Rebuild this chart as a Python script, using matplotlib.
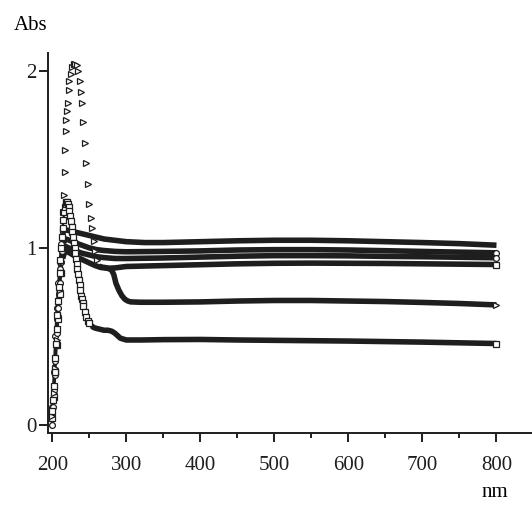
"""UV-Vis absorbance spectra, six samples, 200-800 nm."""
import numpy as np
import matplotlib
matplotlib.use("Agg")
import matplotlib.pyplot as plt
from matplotlib.ticker import MultipleLocator

plt.rcParams["font.family"] = ["Liberation Serif", "DejaVu Serif"]
plt.rcParams["font.size"] = 15

# --- data (nm, Abs) ---
# A: triangles, sharp peak ~2.03 near 230 nm, plateau ~0.69
a_nm = [200, 202, 204, 206, 208, 210, 212, 213, 214, 215, 216, 216.5, 217, 218, 219, 220,
        221, 222, 223, 225, 227, 229, 231, 233, 235, 237, 239, 240, 242, 244, 246, 248,
        250, 252, 254, 256, 258, 260, 263, 266, 270, 275, 280, 283, 286, 290, 294, 298,
        302, 306, 320, 350, 400, 450, 500, 550, 600, 650, 700, 750, 800]
a_abs = [0.05, 0.18, 0.32, 0.48, 0.62, 0.76, 0.92, 1.00, 1.10, 1.20, 1.30, 1.43, 1.55, 1.66,
         1.72, 1.77, 1.82, 1.89, 1.94, 1.98, 2.02, 2.04, 2.04, 2.03, 2.00, 1.94, 1.88, 1.82,
         1.71, 1.59, 1.48, 1.36, 1.25, 1.17, 1.11, 1.04, 0.98, 0.93, 0.90, 0.89, 0.89, 0.885,
         0.875, 0.85, 0.80, 0.76, 0.73, 0.71, 0.70, 0.695, 0.693, 0.693, 0.695, 0.700, 0.703,
         0.703, 0.700, 0.697, 0.692, 0.686, 0.678]

# B: squares, peak ~1.26 near 220 nm, plateau ~0.47
b_nm = [200, 201, 202, 203, 204, 205, 206, 207, 208, 209, 210, 211, 212, 213, 214, 215, 216,
        217, 218, 219, 220, 221, 222, 223, 224, 225, 226, 227, 228, 229, 230, 231, 232, 233,
        234, 235, 236, 237, 238, 239, 240, 241, 242, 244, 246, 248, 250, 253, 256, 260, 265,
        270, 275, 280, 284, 288, 292, 296, 300, 320, 350, 400, 450, 500, 550, 600, 650, 700,
        750, 800]
b_abs = [0.08, 0.14, 0.22, 0.30, 0.38, 0.46, 0.54, 0.62, 0.70, 0.78, 0.86, 0.93, 1.00, 1.06,
         1.11, 1.16, 1.20, 1.23, 1.25, 1.26, 1.26, 1.25, 1.23, 1.21, 1.18, 1.15, 1.12, 1.09,
         1.06, 1.03, 1.00, 0.97, 0.94, 0.91, 0.88, 0.85, 0.82, 0.79, 0.76, 0.73, 0.71, 0.69,
         0.67, 0.64, 0.61, 0.59, 0.575, 0.56, 0.55, 0.545, 0.54, 0.535, 0.535, 0.53, 0.52,
         0.505, 0.49, 0.485, 0.48, 0.48, 0.482, 0.483, 0.48, 0.478, 0.476, 0.474, 0.471,
         0.468, 0.464, 0.46]

# C: top band, ~1.04
c_nm = [200, 202, 204, 206, 208, 210, 212, 214, 216, 220, 225, 230, 240, 250, 260, 270, 280,
        290, 300, 325, 350, 400, 450, 500, 550, 600, 650, 700, 750, 800]
c_abs = [0.10, 0.30, 0.50, 0.66, 0.80, 0.92, 1.02, 1.08, 1.10, 1.10, 1.095, 1.09, 1.08, 1.07,
         1.06, 1.05, 1.045, 1.04, 1.035, 1.03, 1.03, 1.035, 1.04, 1.043, 1.043, 1.04, 1.035,
         1.03, 1.024, 1.015]

# D: circles, ~0.98
d_nm = [200, 201, 203, 205, 207, 209, 211, 213, 215, 218, 222, 230, 240, 250, 260, 270, 285,
        300, 350, 400, 450, 500, 550, 600, 650, 700, 750, 800]
d_abs = [0.0, 0.10, 0.28, 0.45, 0.60, 0.74, 0.88, 0.98, 1.03, 1.05, 1.045, 1.03, 1.015, 1.00,
         0.99, 0.985, 0.98, 0.978, 0.98, 0.983, 0.988, 0.99, 0.99, 0.988, 0.984, 0.98, 0.976,
         0.972]

# E: circles, ~0.95
e_nm = [200, 202, 204, 206, 208, 210, 212, 214, 217, 222, 230, 240, 250, 260, 270, 285, 300,
        350, 400, 450, 500, 550, 600, 650, 700, 750, 800]
e_abs = [0.06, 0.20, 0.36, 0.52, 0.66, 0.80, 0.92, 0.99, 1.01, 1.00, 0.985, 0.97, 0.96, 0.95,
         0.945, 0.94, 0.94, 0.943, 0.948, 0.953, 0.956, 0.956, 0.955, 0.952, 0.95, 0.947,
         0.944]

# F: squares, ~0.91
f_nm = [200, 202, 204, 206, 208, 210, 212, 214, 217, 222, 230, 240, 250, 258, 265, 275, 285,
        300, 350, 400, 450, 500, 550, 600, 650, 700, 750, 800]
f_abs = [0.04, 0.16, 0.30, 0.45, 0.60, 0.74, 0.86, 0.94, 0.98, 0.975, 0.955, 0.935, 0.915,
         0.90, 0.89, 0.885, 0.887, 0.895, 0.90, 0.905, 0.91, 0.913, 0.914, 0.913, 0.912, 0.91,
         0.908, 0.906]

INK = "#1e1e1e"
# (x, y, marker, start of the dense "band" part, thin joining line?, end marker?)
series = [
    (c_nm, c_abs, "o", 214, True, False),
    (d_nm, d_abs, "o", 215, True, True),
    (e_nm, e_abs, "o", 214, True, True),
    (f_nm, f_abs, "s", 214, True, True),
    (a_nm, a_abs, ">", 262, False, True),
    (b_nm, b_abs, "s", 252, True, True),
]

fig = plt.figure(figsize=(5.32, 5.05), dpi=100)
ax = fig.add_axes([0.0908, 0.1426, 0.9092, 0.7524])

for x, y, mk, band, join, endmark in series:
    x = np.asarray(x, float); y = np.asarray(y, float)
    flat = x >= band
    ax.plot(x[flat], y[flat], color=INK, lw=4.0, solid_capstyle="butt", zorder=2)
    pts = ~flat
    # keep the first band point so the thin part meets the band
    pts[np.argmax(flat)] = True
    if join:
        ax.plot(x[pts], y[pts], color=INK, lw=1.6, zorder=2)
    pts[np.argmax(flat)] = False
    pts[-1] = endmark
    ax.plot(x[pts], y[pts], ls="none", marker=mk, ms=4.2, mfc="white", mec=INK,
            mew=0.9, zorder=3)

ax.set_xlim(194.6, 848)
ax.set_ylim(-0.045, 2.10)
ax.xaxis.set_minor_locator(MultipleLocator(50))
ax.yaxis.set_major_locator(MultipleLocator(1))
ax.set_xticks([200, 300, 400, 500, 600, 700, 800])

for s in ("top", "right"):
    ax.spines[s].set_visible(False)
for s in ("left", "bottom"):
    ax.spines[s].set_linewidth(1.4)
    ax.spines[s].set_color(INK)
ax.tick_params(axis="x", which="major", direction="out", length=6.5, width=1.4,
               pad=10, colors=INK)
ax.tick_params(axis="x", which="minor", direction="out", length=3.5, width=1.4, colors=INK)
ax.tick_params(axis="y", which="major", direction="out", length=6.5, width=1.4,
               pad=2, colors=INK)

fig.text(0.026, 0.950, "Abs", fontsize=15, va="center", ha="left")
fig.text(0.93, 0.006, "nm", fontsize=15, va="bottom", ha="center")

fig.savefig("out.png", dpi=100)
